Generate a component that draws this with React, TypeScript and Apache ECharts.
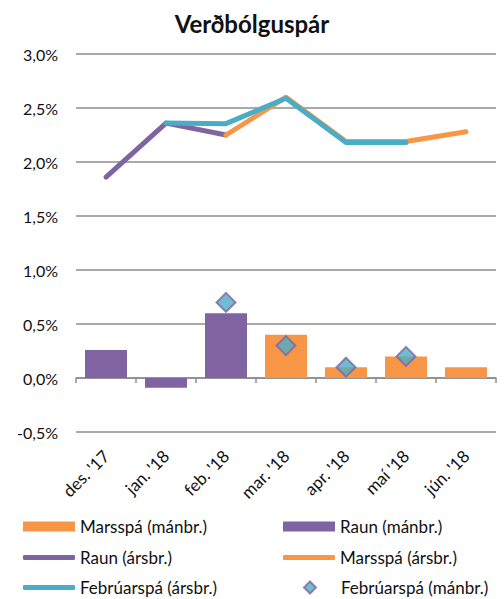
import React, { useEffect, useRef } from "react";
import * as echarts from "echarts";

const categories = ["des. '17", "jan. '18", "feb. '18", "mar. '18", "apr. '18", "maí '18", "jún. '18"];
const marsManbr = [null, null, null, 0.4, 0.1, 0.2, 0.1];
const raunManbr = [0.26, -0.09, 0.6, null, null, null, null];
const raunArsbr = [1.86, 2.36, 2.25, null, null, null, null];
const marsArsbr = [null, null, 2.25, 2.6, 2.19, 2.19, 2.28];
const febArsbr = [null, 2.36, 2.355, 2.59, 2.18, 2.18, null];
const febManbr = [null, null, 0.7, 0.3, 0.1, 0.2, null];
const yTicks = { min: -0.5, max: 3.0, interval: 0.5 };

const PURPLE = "#8064A2";
const ORANGE = "#F79646";
const TEAL = "#4BACC6";
const FONT = "Lato";

export default function App() {
  const ref = useRef<HTMLDivElement>(null);
  useEffect(() => {
    if (!ref.current) return;
    const chart = echarts.init(ref.current, null, { renderer: "svg" });
    const legendBase = (name: string, left: number, centerY: number, icon: string, h: number, w = 52, textPad = 0) => ({
      data: [{ name, icon }],
      left,
      top: centerY - 10,
      height: 20,
      padding: 0,
      itemWidth: w,
      itemHeight: h,
      textStyle: { fontFamily: FONT, fontSize: 17, color: "#111", padding: [0, 0, 0, textPad] },
      selectedMode: false,
    });
    chart.setOption({
      animation: false,
      backgroundColor: "#fff",
      textStyle: { fontFamily: FONT },
      title: {
        text: "Verðbólguspár",
        left: "center",
        top: 6,
        textStyle: { fontFamily: FONT, fontSize: 24, fontWeight: "bold", color: "#111" },
      },
      grid: { left: 76, right: 8, top: 54, bottom: 167, containLabel: false },
      legend: [
        legendBase("Marsspá (mánbr.)", 23, 528, "rect", 10),
        legendBase("Raun (mánbr.)", 283, 528, "rect", 10),
        legendBase("Raun (ársbr.)", 23, 559, "roundRect", 5),
        legendBase("Marsspá (ársbr.)", 283, 559, "roundRect", 5),
        legendBase("Febrúarspá (ársbr.)", 23, 589, "roundRect", 5),
        legendBase("Febrúarspá (mánbr.)", 303, 589, "diamond", 12, 12, 20),
      ],
      xAxis: [
        {
          type: "category",
          data: categories,
          boundaryGap: true,
          axisLine: { onZero: true, lineStyle: { color: "#8c8c8c", width: 1.5 } },
          axisTick: { show: true, length: 5, lineStyle: { color: "#8c8c8c", width: 1.5 } },
          axisLabel: { show: false },
          splitLine: { show: false },
        },
        {
          type: "category",
          data: categories,
          position: "bottom",
          axisLine: { show: false, onZero: false },
          axisTick: { show: false },
          axisLabel: {
            interval: 0,
            rotate: 45,
            margin: 21,
            fontFamily: FONT,
            fontSize: 17,
            color: "#111",
          },
        },
      ],
      yAxis: {
        type: "value",
        min: yTicks.min,
        max: yTicks.max,
        interval: yTicks.interval,
        axisLine: { show: false },
        axisTick: { show: false },
        splitLine: { lineStyle: { color: "#8c8c8c", width: 1.5 } },
        axisLabel: {
          margin: 18,
          fontFamily: FONT,
          fontSize: 16,
          color: "#111",
          formatter: (v: number) => v.toFixed(1).replace(".", ",") + "%",
        },
      },
      series: [
        {
          name: "Marsspá (mánbr.)",
          type: "bar",
          data: marsManbr,
          barWidth: 42,
          barGap: "-100%",
          itemStyle: { color: ORANGE },
        },
        {
          name: "Raun (mánbr.)",
          type: "bar",
          data: raunManbr,
          barWidth: 42,
          barGap: "-100%",
          itemStyle: { color: PURPLE },
        },
        {
          name: "Raun (ársbr.)",
          type: "line",
          data: raunArsbr,
          symbol: "none",
          lineStyle: { color: PURPLE, width: 5, cap: "round", join: "round" },
          itemStyle: { color: PURPLE },
          z: 3,
        },
        {
          name: "Marsspá (ársbr.)",
          type: "line",
          data: marsArsbr,
          symbol: "none",
          lineStyle: { color: ORANGE, width: 5, cap: "round", join: "round" },
          itemStyle: { color: ORANGE },
          z: 4,
        },
        {
          name: "Febrúarspá (ársbr.)",
          type: "line",
          data: febArsbr,
          symbol: "none",
          lineStyle: { color: TEAL, width: 5, cap: "round", join: "round" },
          itemStyle: { color: TEAL },
          z: 5,
        },
        {
          name: "Febrúarspá (mánbr.)",
          type: "scatter",
          data: febManbr,
          symbol: "diamond",
          symbolSize: 19,
          itemStyle: { color: TEAL, borderColor: PURPLE, borderWidth: 2 },
          z: 6,
        },
      ],
    });
    return () => chart.dispose();
  }, []);
  return (
    <div
      ref={ref}
      style={{ position: "fixed", left: 0, top: 0, width: 504, height: 599, background: "#fff" }}
    />
  );
}
